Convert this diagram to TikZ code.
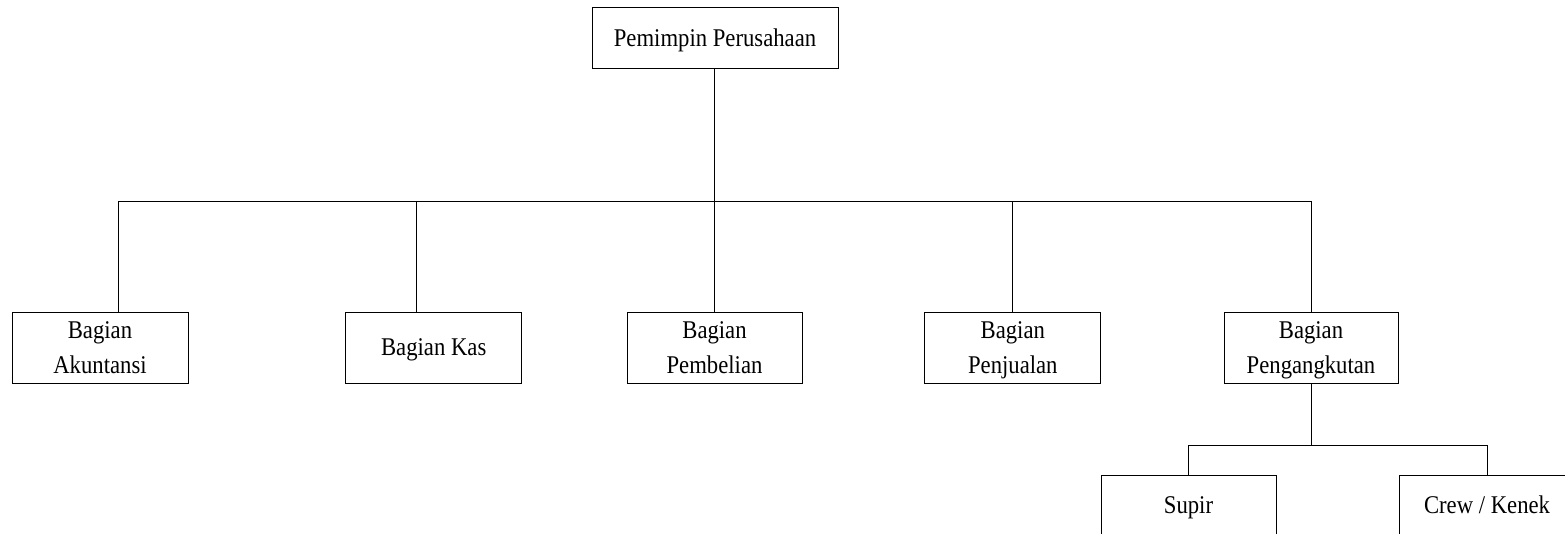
\documentclass[tikz,border=0pt]{standalone}
\usepackage{fontspec}
\setmainfont{Liberation Serif}[FakeStretch=0.89]
\begin{document}
\begin{tikzpicture}[x=1pt,y=-1pt,
  line width=0.9pt,
  unit/.style={draw, rectangle, inner sep=0pt, align=center,
    minimum height=71pt, text depth=0pt, font=\fontsize{25.5}{35}\selectfont},
  lowunit/.style={draw, rectangle, inner sep=0pt, align=center,
    minimum height=95pt, text height=17pt, text depth=36pt,
    font=\fontsize{25.5}{35}\selectfont}]
  \useasboundingbox (0,0) rectangle (1565,534);

  % head of the company
  \node[unit, minimum width=246pt, minimum height=61pt] (head) at (715,37.5) {Pemimpin Perusahaan};

  % departments
  \node[unit, minimum width=176pt] (akun)   at (100,347.5)   {Bagian\\Akuntansi};
  \node[unit, minimum width=176pt] (kas)    at (433.7,347.5) {Bagian Kas};
  \node[unit, minimum width=175pt] (beli)   at (714.5,347.5) {Bagian\\Pembelian};
  \node[unit, minimum width=176pt] (jual)   at (1012.8,347.5){Bagian\\Penjualan};
  \node[unit, minimum width=174pt] (angkut) at (1311,347.5)  {Bagian\\Pengangkutan};

  % transport staff
  \node[lowunit, minimum width=175pt] (supir) at (1188.5,522.5) {Supir};
  \node[lowunit, minimum width=176pt] (crew)  at (1487,522.5)   {Crew / Kenek};

  % main bus
  \coordinate (busA) at (118,201);
  \coordinate (busB) at (416,201);
  \coordinate (busC) at (714.5,201);
  \coordinate (busD) at (1012.8,201);
  \coordinate (busE) at (1311.5,201);
  \draw (head.south -| busC) -- (busC);
  \draw (busA) -- (busE);
  \draw (busA) -- (busA |- akun.north);
  \draw (busB) -- (busB |- kas.north);
  \draw (busC) -- (busC |- beli.north);
  \draw (busD) -- (busD |- jual.north);
  \draw (busE) -- (busE |- angkut.north);

  % transport bus
  \coordinate (subM) at (1311.5,445);
  \coordinate (subL) at (1188,445);
  \coordinate (subR) at (1487,445);
  \draw (angkut.south -| subM) -- (subM);
  \draw (subL) -- (subR);
  \draw (subL) -- (subL |- supir.north);
  \draw (subR) -- (subR |- crew.north);
\end{tikzpicture}
\end{document}
